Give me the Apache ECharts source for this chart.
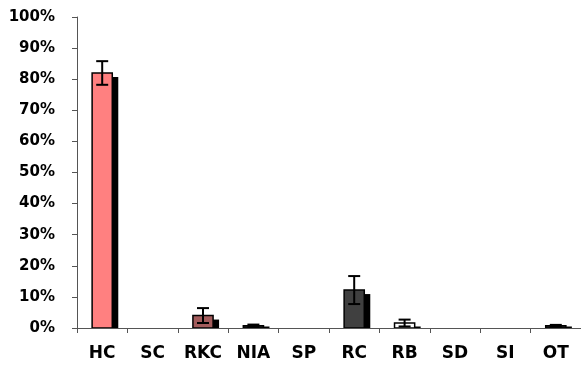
<!DOCTYPE html>
<html>
<head>
<meta charset="utf-8">
<script src="https://cdn.jsdelivr.net/npm/echarts@6/dist/echarts.min.js"></script>
<style>
  html, body { margin: 0; padding: 0; background: #fff; }
  #chart { width: 581px; height: 367px; }
</style>
</head>
<body>
<div id="chart"></div>
<script>
// Category labels along the x axis
var categories = ['HC', 'SC', 'RKC', 'NIA', 'SP', 'RC', 'RB', 'SD', 'SI', 'OT'];
// Mean share per category (percent)
var means = [82, 0, 4, 0.7, 0, 12.2, 1.6, 0, 0, 0.7];
// Standard error per category (percent)
var errors = [3.8, 0, 2.4, 0.4, 0, 4.5, 1.1, 0, 0, 0.3];
// Fill colour per category
var fills = ['#ff8080', '#ffffff', '#a35c5c', '#222222', '#ffffff', '#404040', '#ffffff', '#ffffff', '#ffffff', '#222222'];
// Y axis tick labels
var yTicks = ['0%', '10%', '20%', '30%', '40%', '50%', '60%', '70%', '80%', '90%', '100%'];

var chart = echarts.init(document.getElementById('chart'), null, { renderer: 'canvas' });

var barData = means.map(function (v, i) {
  return [i, v, errors[i]];
});

var labelFont = { fontFamily: 'DejaVu Sans', fontWeight: 'bold', color: '#000' };

// Bar with a hard drop shadow, drawn as two rectangles
function renderBar(params, api) {
  var i = api.value(0);
  var v = api.value(1);
  if (v <= 0) return null;
  var top = api.coord([i, v]);
  var base = api.coord([i, 0]);
  var w = api.size([1, 0])[0] * 0.4;
  var x0 = top[0] - w / 2;
  var h = base[1] - top[1];
  var shadowTop = Math.min(top[1] + 4, base[1] - 1.5);
  return {
    type: 'group',
    children: [
      {
        type: 'rect',
        shape: { x: x0 + 6, y: shadowTop, width: w, height: base[1] + 0.5 - shadowTop },
        style: { fill: '#000' }
      },
      {
        type: 'rect',
        shape: { x: x0, y: top[1], width: w, height: h },
        style: { fill: fills[i], stroke: '#000', lineWidth: 1.5 }
      }
    ]
  };
}

// Error bar with caps at both ends
function renderError(params, api) {
  var i = api.value(0);
  var v = api.value(1);
  var e = api.value(2);
  if (e <= 0) return null;
  var lo = api.coord([i, v - e]);
  var hi = api.coord([i, v + e]);
  var half = 6;
  var style = { stroke: '#000', lineWidth: 2 };
  return {
    type: 'group',
    children: [
      { type: 'line', shape: { x1: hi[0], y1: hi[1], x2: lo[0], y2: lo[1] }, style: style },
      { type: 'line', shape: { x1: hi[0] - half, y1: hi[1], x2: hi[0] + half, y2: hi[1] }, style: style },
      { type: 'line', shape: { x1: lo[0] - half, y1: lo[1], x2: lo[0] + half, y2: lo[1] }, style: style }
    ]
  };
}

chart.setOption({
  animation: false,
  backgroundColor: '#ffffff',
  grid: { left: 77, top: 17, width: 517, height: 311, containLabel: false },
  xAxis: {
    type: 'category',
    data: categories,
    boundaryGap: true,
    axisLine: { show: true, onZero: false, lineStyle: { color: '#555', width: 1 } },
    axisTick: { show: true, alignWithLabel: false, length: 5, lineStyle: { color: '#555' } },
    axisLabel: Object.assign({ fontSize: 17, margin: 17 }, labelFont),
    splitLine: { show: false },
    z: 10
  },
  yAxis: {
    type: 'value',
    min: 0,
    max: 100,
    interval: 10,
    axisLine: { show: true, lineStyle: { color: '#555', width: 1 } },
    axisTick: { show: true, length: 5, lineStyle: { color: '#555' } },
    axisLabel: Object.assign({
      fontSize: 15,
      margin: 22,
      formatter: function (v) { return yTicks[Math.round(v / 10)]; }
    }, labelFont),
    splitLine: { show: false }
  },
  series: [
    {
      type: 'custom',
      data: barData,
      renderItem: renderBar,
      z: 2
    },
    {
      type: 'custom',
      data: barData,
      renderItem: renderError,
      z: 5
    }
  ]
});
</script>
</body>
</html>
